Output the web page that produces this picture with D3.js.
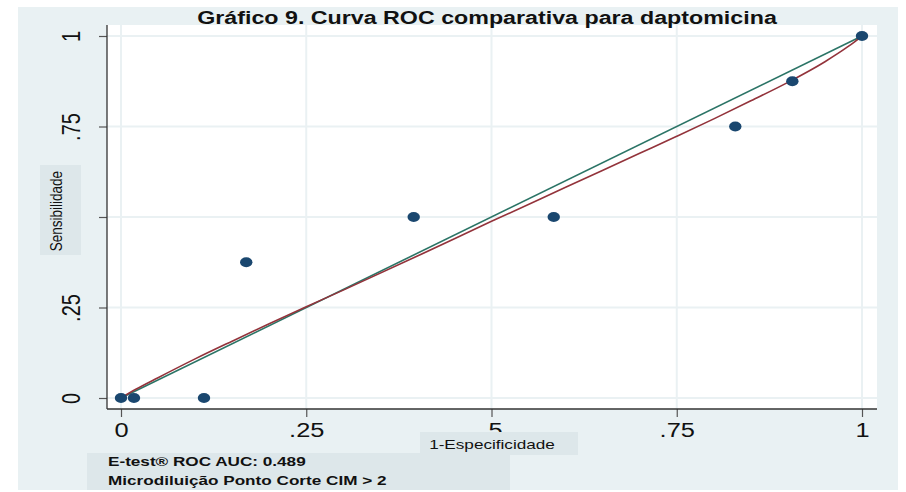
<!DOCTYPE html>
<html>
<head>
<meta charset="utf-8">
<script src="https://cdn.jsdelivr.net/npm/d3@7"></script>
<style>
  html, body { margin: 0; padding: 0; background: #ffffff; }
  svg { display: block; font-family: "Liberation Sans", Arial, sans-serif; }
</style>
</head>
<body>
<svg id="chart" width="906" height="492"></svg>
<script>
// ROC points (1 - specificity, sensitivity)
const pointFpr = [0, 0.0175, 0.112, 0.169, 0.395, 0.584, 0.829, 0.906, 1];
const pointTpr = [0, 0, 0, 0.375, 0.5, 0.5, 0.75, 0.875, 1];

// Smoothed ROC curve (maroon)
const curveFpr = [0, 0.02, 0.05, 0.1, 0.15, 0.2, 0.25, 0.3, 0.4, 0.5, 0.6, 0.7, 0.75, 0.8, 0.85, 0.9, 0.95, 0.98, 0.99, 1];
const curveTpr = [0, 0.024, 0.056, 0.108, 0.157, 0.205, 0.252, 0.298, 0.392, 0.488, 0.582, 0.676, 0.723, 0.771, 0.821, 0.872, 0.929, 0.969, 0.984, 1];

// Reference diagonal (teal)
const refFpr = [0, 1];
const refTpr = [0, 1];

// Axis ticks
const tickValues = [0, 0.25, 0.5, 0.75, 1];
const tickLabels = ["0", ".25", ".5", ".75", "1"];

const titleText = "Gráfico 9. Curva ROC comparativa para daptomicina";
const yTitle = "Sensibilidade";
const xTitle = "1-Especificidade";
const noteLines = ["E-test® ROC AUC: 0.489", "Microdiluição Ponto Corte CIM > 2"];

// Horizontal stretch applied to text and markers
const SX = 1.27;

const svg = d3.select("#chart");

const bg = "#e9f1f3", boxFill = "#dde7ea", grid = "#eaf1f3";

// Graph region
svg.append("rect").attr("x", 18).attr("y", 7).attr("width", 880).attr("height", 483).attr("fill", bg);

// Plot region
const plot = { left: 107, right: 877, top: 25, bottom: 409 };
svg.append("rect").attr("x", plot.left).attr("y", plot.top)
  .attr("width", plot.right - plot.left).attr("height", plot.bottom - plot.top).attr("fill", "#ffffff");

const x = d3.scaleLinear().domain([0, 1]).range([121, 862]);
const y = d3.scaleLinear().domain([0, 1]).range([398, 36]);

// Gridlines
svg.append("g").selectAll("line").data(tickValues).join("line")
  .attr("x1", plot.left).attr("x2", plot.right)
  .attr("y1", d => y(d)).attr("y2", d => y(d))
  .attr("stroke", grid).attr("stroke-width", 2);
svg.append("g").selectAll("line").data(tickValues).join("line")
  .attr("y1", plot.top).attr("y2", plot.bottom)
  .attr("x1", d => x(d)).attr("x2", d => x(d))
  .attr("stroke", grid).attr("stroke-width", 2);

// Y axis
const fmt = d => tickLabels[tickValues.indexOf(d)];
const yAxis = svg.append("g").attr("transform", `translate(${plot.left},0)`)
  .call(d3.axisLeft(y).tickValues(tickValues).tickFormat(fmt).tickSize(8).tickSizeOuter(0));
yAxis.select(".domain").remove();
yAxis.selectAll(".tick line").attr("stroke", "#555").attr("stroke-width", 1.2);
yAxis.selectAll(".tick text")
  .attr("x", null).attr("dy", null)
  .attr("text-anchor", "middle")
  .attr("font-size", 20).attr("fill", "#111")
  .attr("transform", `translate(-27,0) scale(${SX},1) rotate(-90)`);

// X axis
const xAxis = svg.append("g").attr("transform", `translate(0,${plot.bottom})`)
  .call(d3.axisBottom(x).tickValues(tickValues).tickFormat(fmt).tickSize(8).tickSizeOuter(0));
xAxis.select(".domain").remove();
xAxis.selectAll(".tick line").attr("stroke", "#555").attr("stroke-width", 1.2);
xAxis.selectAll(".tick text")
  .attr("y", null).attr("dy", null)
  .attr("text-anchor", "middle")
  .attr("font-size", 20).attr("fill", "#111")
  .attr("transform", `translate(0,28) scale(${SX},1)`);

// Axis lines
svg.append("line").attr("x1", plot.left).attr("x2", plot.left).attr("y1", plot.top).attr("y2", plot.bottom)
  .attr("stroke", "#333").attr("stroke-width", 1.3);
svg.append("line").attr("x1", plot.left).attr("x2", plot.right).attr("y1", plot.bottom).attr("y2", plot.bottom)
  .attr("stroke", "#333").attr("stroke-width", 1.3);

// Lines
const line = d3.line().x(d => x(d[0])).y(d => y(d[1]));
svg.append("path").datum(refFpr.map((v, i) => [v, refTpr[i]]))
  .attr("d", line).attr("fill", "none").attr("stroke", "#2b7466").attr("stroke-width", 1.6);
svg.append("path").datum(curveFpr.map((v, i) => [v, curveTpr[i]]))
  .attr("d", line.curve(d3.curveMonotoneX)).attr("fill", "none").attr("stroke", "#93333b").attr("stroke-width", 1.6);

// Markers
svg.append("g").selectAll("ellipse").data(pointFpr.map((v, i) => [v, pointTpr[i]])).join("ellipse")
  .attr("cx", d => x(d[0])).attr("cy", d => y(d[1]))
  .attr("rx", 6.2).attr("ry", 5).attr("fill", "#1a476f");

// Title
svg.append("text").attr("text-anchor", "middle").attr("font-weight", "bold").attr("font-size", 18.3)
  .attr("fill", "#111")
  .attr("transform", `translate(487,24) scale(${SX},1)`).text(titleText);

// Y axis title with its box (the box sits over the middle tick label)
svg.append("rect").attr("x", 40).attr("y", 165).attr("width", 41).attr("height", 90).attr("fill", boxFill);
svg.append("text").attr("text-anchor", "middle").attr("font-size", 13.5).attr("fill", "#111")
  .attr("transform", `translate(62,211) scale(${SX},1) rotate(-90)`).text(yTitle);

// X axis title with its box
svg.append("rect").attr("x", 420).attr("y", 432).attr("width", 158).attr("height", 23).attr("fill", boxFill);
svg.append("text").attr("text-anchor", "middle").attr("font-size", 13.5).attr("fill", "#111")
  .attr("transform", `translate(492,449) scale(${SX},1)`).text(xTitle);

// Note box
svg.append("rect").attr("x", 87).attr("y", 453).attr("width", 423).attr("height", 37).attr("fill", boxFill);
noteLines.forEach((t, i) => {
  svg.append("text").attr("font-weight", "bold").attr("font-size", 13.5).attr("fill", "#111")
    .attr("transform", `translate(108,${466 + i * 19}) scale(${SX},1)`).text(t);
});
</script>
</body>
</html>
